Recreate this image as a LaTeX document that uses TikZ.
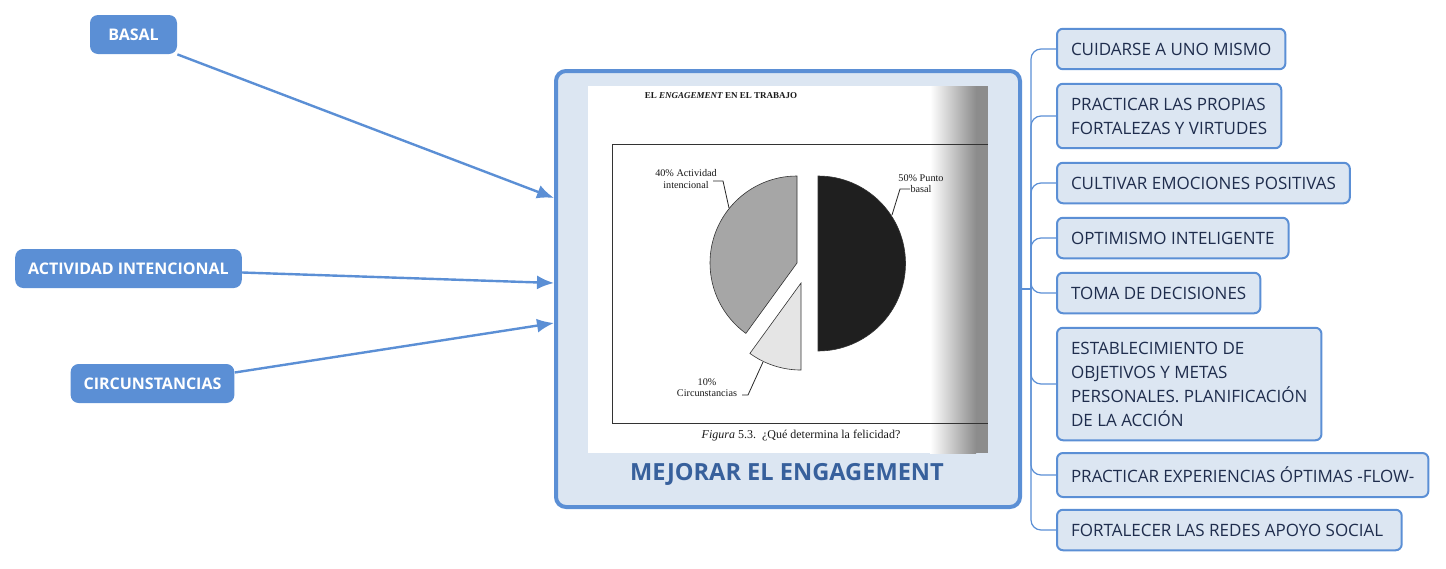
\documentclass[tikz,border=0pt]{standalone}
\usepackage{fontspec}
\setmainfont{Open Sans}
\newfontfamily\scanfont{Liberation Serif}
\usepackage{xcolor}
\usepackage{tikz}
\usetikzlibrary{calc}
\usetikzlibrary{positioning}
\usetikzlibrary{arrows.meta}

\definecolor{mapblue}{HTML}{5B8FD5}
\definecolor{boxfill}{HTML}{DCE6F2}
\definecolor{titleblue}{HTML}{37609C}
\definecolor{itemtext}{HTML}{1F2D4D}

\tikzset{
	leftbox/.style={fill=mapblue,rounded corners=4pt,text=white,font=\fontsize{8}{9}\selectfont\bfseries,minimum height=19.5pt,inner xsep=6.5pt},
	itembox/.style={draw=mapblue,line width=1pt,fill=boxfill,rounded corners=3pt,text=itemtext,font=\fontsize{8.5}{12}\selectfont,align=left,anchor=west,inner xsep=7pt,inner ysep=7pt,minimum height=20pt},
	mainbox/.style={draw=mapblue,line width=2pt,fill=boxfill,rounded corners=5pt,minimum width=232pt,minimum height=218pt},
	feed/.style={draw=mapblue,line width=1.2pt,-{Latex[length=8.5pt,width=7pt]}},
	branch/.style={draw=mapblue,line width=0.6pt,rounded corners=5pt},
	slice/.style={draw=black!80,line width=0.3pt},
	scanlbl/.style={font=\scanfont\fontsize{5.1}{5.6}\selectfont,align=center,inner sep=0.5pt,text=black!90}
}

\begin{document}
\begin{tikzpicture}[x=0.5pt,y=-0.5pt]
		  \useasboundingbox (0,0) rectangle (1446,568);
		  \node[mainbox] (main) at (788,289) {};
		  \fill[white] (588,86) rectangle (988,453);
		  \shade[left color=white,right color=black!45] (930,86) rectangle (976,453);
		  \fill[black!45] (976,86) rectangle (988,453);
		  \draw[black!80,line width=0.4pt] (988,144) -- (612,144) -- (612,423) -- (988,423);
		  \fill[black!88,slice] (818,263.5) -- ++(0,-87.5) arc[start angle=-90,end angle=90,radius=87.5] -- cycle;
		  \fill[black!35,slice] (797,263) -- ++(0,-87) arc[start angle=-90,end angle=-234,radius=87] -- cycle;
		  \fill[black!10,slice] (801,283) -- ++(-51.1,70.4) arc[start angle=-234,end angle=-270,radius=87] -- cycle;
		  \node[scanlbl,font=\scanfont\fontsize{4.5}{5}\selectfont\bfseries] (scanhead) at (721,96) {EL \textit{ENGAGEMENT} EN EL TRABAJO};
		  \node[scanlbl,font=\scanfont\fontsize{6}{7}\selectfont] (scancap) at (801,436) {\textit{Figura} 5.3.\ \ ¿Qué determina la felicidad?};
		  \node[scanlbl] (lblA) at (686,179) {40\% Actividad\\intencional};
		  \node[scanlbl] (lblB) at (921,184) {50\% Punto\\basal};
		  \node[scanlbl] (lblC) at (707,388) {10\%\\Circunstancias};
		  \coordinate (tipA) at (729,208);
		  \coordinate (tipB) at (892,215);
		  \coordinate (tipC) at (763,362);
		  \draw[black!85,line width=0.4pt] (tipA) -- ++(-6,-27) -- ++(-10,0);
		  \draw[black!85,line width=0.4pt] (tipB) -- ++(8,-26) -- ++(10,0);
		  \draw[black!85,line width=0.4pt] (tipC) -- ++(-15,33) -- ++(-6,0);
		  \node[font=\fontsize{11.8}{13}\selectfont\bfseries,text=titleblue] (title) at (787,474) {MEJORAR EL ENGAGEMENT};
		  \node[leftbox,minimum width=43.5pt] (basal) at (133.5,34.5) {BASAL};
		  \node[leftbox] (actividad) at (128.5,268.5) {ACTIVIDAD INTENCIONAL};
		  \node[leftbox] (circ) at (152.5,383.5) {CIRCUNSTANCIAS};
		  \draw[feed] (basal.south east) -- ([yshift=45.5pt]main.west);
		  \draw[feed] ([yshift=-2pt]actividad.east) -- ([yshift=3pt]main.west);
		  \draw[feed] ([yshift=5.5pt]circ.east) -- ([yshift=-17pt]main.west);
		  \coordinate (hub) at (1031,289);
		  \draw[branch] (main.east) -- (hub);
		  \foreach \ypos/\nm/\txt in {
		  		49/it1/{CUIDARSE A UNO MISMO},
		  		116/it2/{PRACTICAR LAS PROPIAS\\FORTALEZAS Y VIRTUDES},
		  		183/it3/{CULTIVAR EMOCIONES POSITIVAS},
		  		238/it4/{OPTIMISMO INTELIGENTE},
		  		293/it5/{TOMA DE DECISIONES},
		  		384/it6/{ESTABLECIMIENTO DE\\OBJETIVOS Y METAS\\PERSONALES. PLANIFICACIÓN\\DE LA ACCIÓN},
		  		475/it7/{PRACTICAR EXPERIENCIAS ÓPTIMAS -FLOW-},
		  		530/it8/{FORTALECER LAS REDES APOYO SOCIAL}
		  }{
		  	\node[itembox] (\nm) at (1056,\ypos) {\txt};
		  	\draw[branch] (hub) |- (\nm.west);
		  }
\end{tikzpicture}
\end{document}
